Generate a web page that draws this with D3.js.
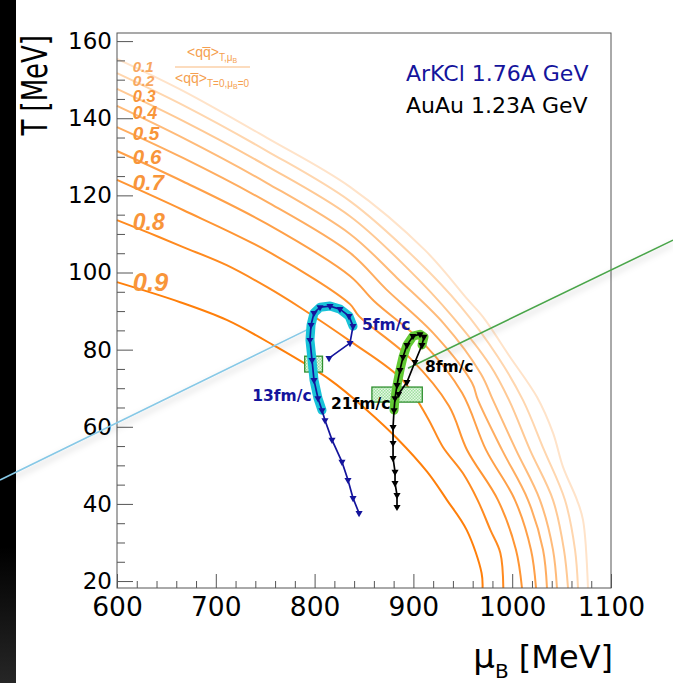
<!DOCTYPE html>
<html>
<head>
<meta charset="utf-8">
<script src="https://cdn.jsdelivr.net/npm/d3@7"></script>
<style>
  body { margin: 0; background: #000; }
  svg { display: block; }
</style>
</head>
<body>
<div id="chart"></div>
<script>
// ---- data ----
const levels = [0.1, 0.2, 0.3, 0.4, 0.5, 0.6, 0.7, 0.8, 0.9];

// chiral condensate ratio contours, [muB, T]
const contour01 = [[600,155.4],[666.8,147.1],[751.8,134.9],[835.8,122.2],[911.7,105.8],[955.3,92.9],[970.4,88.5],[997.8,78.1],[1025.1,67.7],[1041.3,58.4],[1051.4,49.6],[1065.6,41.0],[1071.7,35.8],[1076.7,18.2]];
const contour02 = [[600,151.7],[666.8,143.4],[751.8,131.5],[835.8,118.5],[902.6,103.5],[948.2,91.1],[985.6,78.1],[1010.9,66.9],[1032.2,54.0],[1053.4,41.0],[1063.6,28.1],[1066.6,18.2]];
const contour03 = [[600,147.6],[666.8,139.3],[751.8,127.6],[835.8,114.6],[893.5,101.2],[939.1,88.7],[977.5,76.0],[996.8,66.9],[1018.0,54.0],[1041.3,41.0],[1052.4,28.1],[1056.5,18.2]];
const contour04 = [[600,143.2],[666.8,134.9],[751.8,123.2],[835.8,110.0],[883.4,98.6],[931.0,86.7],[968.4,73.7],[980.6,66.9],[1003.8,54.0],[1028.1,41.0],[1041.3,28.1],[1045.3,18.2]];
const contour05 = [[600,137.7],[666.8,129.7],[751.8,118.3],[835.8,105.1],[872.3,95.7],[920.8,84.1],[959.3,71.4],[965.4,66.9],[989.7,54.0],[1016.0,41.0],[1031.2,28.1],[1035.2,18.2]];
const contour06 = [[600,131.5],[666.8,123.6],[751.8,112.6],[835.8,99.1],[860.1,92.6],[910.7,81.5],[949.2,68.8],[973.5,54.0],[1002.8,41.0],[1019.0,28.1],[1024.1,18.2]];
const contour07 = [[600,124.0],[666.8,116.2],[751.8,105.6],[835.8,91.8],[844.9,88.7],[896.6,77.8],[936.0,65.4],[954.3,54.0],[985.6,41.0],[1003.8,28.1],[1009.9,18.2]];
const contour08 = [[600,113.6],[633,110.2],[667,106.6],[711,101.9],[752,96.2],[785,91.0],[836,82.2],[889,72.1],[914,62.5],[930,54.7],[950,48.0],[965,41.0],[978,33.2],[988,27.3],[991,18.2]];
const contour09 = [[600,97.5],[664,92.3],[711,87.7],[758,81.2],[816,72.1],[853,64.3],[883,57.1],[914,48.3],[934,41.0],[954,33.2],[969,22.1],[970,18.2]];
const contours = [contour01, contour02, contour03, contour04, contour05, contour06, contour07, contour08, contour09];

// ArKCl 1.76A GeV trajectory
const arkclMu = [814.6,835.8,838.9,834.8,825.7,815.6,805.5,799.4,796.4,795.3,797.4,799.4,803.4,807.5,810.5,817.6,827.7,833.8,838.9,845.0];
const arkclT  = [77.8,81.7,86.1,88.7,90.5,91.3,91.0,89.5,86.4,82.5,77.3,72.1,67.4,64.3,61.7,56.6,50.9,46.2,41.5,37.6];
const arkclHighlight = [2, 13];

// AuAu 1.23A GeV trajectory
const auauMu = [885.0,893.5,901.6,908.7,910.7,906.7,899.6,893.5,889.5,886.4,883.4,881.4,880.4,879.4,879.4,879.4,881.4,881.4,883.4,883.4];
const auauT  = [68.5,71.6,76.8,81.2,83.3,84.0,83.5,81.2,78.1,74.7,70.8,67.4,64.3,59.9,55.8,51.9,48.3,45.4,42.3,39.2];
const auauHighlight = [3, 12];

// freeze-out boxes
const arkclBoxMu = [790, 808], arkclBoxT = [74.2, 78.3];
const auauBoxMu = [858, 909], auauBoxT = [66.4, 70.3];

// straight lines
const arkclLineMu = [481.6, 798.4], arkclLineT = [46.2, 85.9];
const auauLineMu = [894.5, 1162.8], auauLineT = [75.2, 108.4];

// time labels
const timeLabels = [
  { text: "5fm/c", mu: 848, T: 86.5, set: "arkcl", anchor: "start" },
  { text: "13fm/c", mu: 797, T: 67.9, set: "arkcl", anchor: "end" },
  { text: "21fm/c", mu: 816.6, T: 65.8, set: "auau", anchor: "start" },
  { text: "8fm/c", mu: 911.7, T: 75.6, set: "auau", anchor: "start" }
];

const xTicks = [600, 700, 800, 900, 1000, 1100];
const yTicks = [20, 40, 60, 80, 100, 120, 140, 160];

// ---- layout ----
const W = 673, H = 683;
const x = d3.scaleLinear().domain([600, 1100]).range([117, 611]);
const y = d3.scaleLinear().domain([18.2, 162.1]).range([588, 33]);

const contourColors = ["#ffe3c9", "#ffd6ae", "#ffc994", "#ffbb7a", "#ffad60", "#ffa048", "#ff9533", "#ff8a1f", "#ff7f0a"];
const labelSizes = [15, 15.5, 16.5, 17.5, 19, 20.5, 22.5, 23, 25.5];
const labelDy = [8, 7, 7, 7, 6, 5, 3, 2, 0];
const navy = "#14149c";

const svg = d3.select("#chart").append("svg")
    .attr("width", W)
    .attr("height", H);

const defs = svg.append("defs");
const shadow = defs.append("filter").attr("id", "shadow")
    .attr("x", "-10%").attr("y", "-50%").attr("width", "120%").attr("height", "300%");
shadow.append("feDropShadow").attr("dx", 0).attr("dy", 4)
    .attr("stdDeviation", 3).attr("flood-color", "#000").attr("flood-opacity", 0.25);

const hatch = defs.append("pattern").attr("id", "hatch")
    .attr("patternUnits", "userSpaceOnUse").attr("width", 3).attr("height", 3);
hatch.append("rect").attr("width", 3).attr("height", 3).attr("fill", "#e6f8e6");
hatch.append("rect").attr("width", 1.5).attr("height", 1.5).attr("fill", "#9fe09f");
hatch.append("rect").attr("x", 1.5).attr("y", 1.5).attr("width", 1.5).attr("height", 1.5).attr("fill", "#9fe09f");

const strip = defs.append("linearGradient").attr("id", "strip")
    .attr("x1", 0).attr("y1", 0).attr("x2", 0).attr("y2", 1);
strip.append("stop").attr("offset", "0.8").attr("stop-color", "#000");
strip.append("stop").attr("offset", "1").attr("stop-color", "#262626");

// background: white panel with black strip on the left
svg.append("rect").attr("width", W).attr("height", H).attr("fill", "#fff");
svg.append("rect").attr("width", 16).attr("height", H).attr("fill", "url(#strip)");

// contours
const line = d3.line()
    .x(d => x(d[0]))
    .y(d => y(d[1]))
    .curve(d3.curveCatmullRom.alpha(0.5));

svg.append("g").selectAll("path")
  .data(contours)
  .enter().append("path")
    .attr("d", line)
    .attr("fill", "none")
    .attr("stroke", (d, i) => contourColors[i])
    .attr("stroke-width", 2);

// contour labels
svg.append("g").selectAll("text")
  .data(levels)
  .enter().append("text")
    .attr("x", x(616))
    .attr("y", (d, i) => y(contours[i][0][1]) + labelDy[i])
    .attr("dominant-baseline", "central")
    .style("font-family", "'Liberation Sans', Arial, sans-serif")
    .style("font-weight", "bold")
    .style("font-style", "italic")
    .style("font-size", (d, i) => labelSizes[i] + "px")
    .attr("fill", (d, i) => i < 2 ? "#f8a860" : "#f8953a")
    .text(d => d.toFixed(1));

// ratio legend
const frac = svg.append("g")
    .style("font-family", "'Liberation Sans', Arial, sans-serif")
    .attr("fill", "#f59f50");
const num = frac.append("text").attr("x", 187).attr("y", 57).style("font-size", "14px");
num.append("tspan").text("<qq\u0305>");
num.append("tspan").attr("dy", 4).style("font-size", "10px").text("T,\u03bc");
num.append("tspan").attr("dy", 2).style("font-size", "7px").text("B");
frac.append("line").attr("x1", 175).attr("x2", 250).attr("y1", 67).attr("y2", 67)
    .attr("stroke", "#fbd0a8").attr("stroke-width", 1.5);
const den = frac.append("text").attr("x", 175).attr("y", 83).style("font-size", "14px");
den.append("tspan").text("<qq\u0305>");
den.append("tspan").attr("dy", 4).style("font-size", "10px").text("T=0,\u03bc");
den.append("tspan").attr("dy", 2).style("font-size", "7px").text("B");
den.append("tspan").attr("dy", -2).style("font-size", "10px").text("=0");

// frame
svg.append("rect")
    .attr("x", x(600)).attr("y", y(162.1))
    .attr("width", x(1100) - x(600)).attr("height", y(18.2) - y(162.1))
    .attr("fill", "none").attr("stroke", "#555").attr("stroke-width", 1);

// axes (ticks inside, ROOT style)
const xMinor = d3.range(600, 1101, 20).filter(v => v % 100 !== 0);
const yMinor = d3.range(20, 161, 5).filter(v => v % 20 !== 0);

const gx = svg.append("g").attr("transform", `translate(0,${y(18.2)})`);
gx.call(d3.axisBottom(x).tickValues(xTicks).tickSize(-14).tickPadding(9).tickFormat(d3.format("d")));
gx.append("g").call(d3.axisBottom(x).tickValues(xMinor).tickSize(-7).tickFormat(""));
gx.selectAll(".domain").remove();
gx.selectAll(".tick line").attr("stroke", "#555");
gx.selectAll(".tick text")
    .style("font-family", "'DejaVu Sans', sans-serif")
    .style("font-size", "26.5px")
    .attr("fill", "#000");

const gy = svg.append("g").attr("transform", `translate(${x(600)},0)`);
gy.call(d3.axisLeft(y).tickValues(yTicks).tickSize(-16).tickPadding(5).tickFormat(d3.format("d")));
gy.append("g").call(d3.axisLeft(y).tickValues(yMinor).tickSize(-8).tickFormat(""));
gy.selectAll(".domain").remove();
gy.selectAll(".tick line").attr("stroke", "#555");
gy.selectAll(".tick text")
    .style("font-family", "'DejaVu Sans', sans-serif")
    .style("font-size", "23px")
    .attr("fill", "#000");

// axis titles
const xt = svg.append("text")
    .attr("x", 613).attr("y", 668)
    .attr("text-anchor", "end")
    .style("font-family", "'DejaVu Sans', sans-serif")
    .style("font-size", "32px")
    .attr("fill", "#000");
xt.append("tspan").style("font-size", "34px").text("\u03bc");
xt.append("tspan").attr("dy", 10).style("font-size", "20px").text("B");
xt.append("tspan").attr("dy", -10).text(" [MeV]");

svg.append("text")
    .attr("transform", "translate(47,35) scale(1.35,1) rotate(-90)")
    .attr("text-anchor", "end")
    .style("font-family", "'DejaVu Sans', sans-serif")
    .style("font-size", "26px")
    .attr("fill", "#000")
    .text("T [MeV]");

// freeze-out lines (running past the frame)
function straight(mu, T, color) {
  svg.append("line")
      .attr("x1", x(mu[0])).attr("y1", y(T[0]))
      .attr("x2", x(mu[1])).attr("y2", y(T[1]))
      .attr("stroke", color).attr("stroke-width", 1.6)
      .attr("filter", "url(#shadow)");
}
straight(arkclLineMu, arkclLineT, "#86c8e6");
straight(auauLineMu, auauLineT, "#4aa54a");

// boxes
function box(mu, T) {
  svg.append("rect")
      .attr("x", x(mu[0])).attr("y", y(T[1]))
      .attr("width", x(mu[1]) - x(mu[0])).attr("height", y(T[0]) - y(T[1]))
      .attr("fill", "url(#hatch)")
      .attr("stroke", "#2f8f2f").attr("stroke-width", 1.3);
}
box(arkclBoxMu, arkclBoxT);
box(auauBoxMu, auauBoxT);

// trajectories
const tline = d3.line().x(d => x(d[0])).y(d => y(d[1]));
const tri = d3.symbol(d3.symbolTriangle).size(22);

function trajectory(mu, T, hl, hlColor, color) {
  const pts = mu.map((m, i) => [m, T[i]]);
  svg.append("path")
      .attr("d", tline(pts.slice(hl[0], hl[1] + 1)))
      .attr("fill", "none")
      .attr("stroke", hlColor)
      .attr("stroke-width", 9)
      .attr("stroke-linecap", "round")
      .attr("stroke-linejoin", "round");
  svg.append("path")
      .attr("d", tline(pts))
      .attr("fill", "none")
      .attr("stroke", color)
      .attr("stroke-width", 1.7);
  svg.append("g").selectAll("path")
    .data(pts)
    .enter().append("path")
      .attr("d", tri)
      .attr("transform", d => `translate(${x(d[0])},${y(d[1])}) rotate(180)`)
      .attr("fill", color);
}
trajectory(arkclMu, arkclT, arkclHighlight, "#19c3d8", navy);
trajectory(auauMu, auauT, auauHighlight, "#62c933", "#000");

// time labels
svg.append("g").selectAll("text")
  .data(timeLabels)
  .enter().append("text")
    .attr("x", d => x(d.mu))
    .attr("y", d => y(d.T))
    .attr("text-anchor", d => d.anchor)
    .attr("dominant-baseline", "central")
    .style("font-family", "'DejaVu Sans', sans-serif")
    .style("font-weight", "bold")
    .style("font-size", "15.5px")
    .attr("fill", d => d.set === "arkcl" ? navy : "#000")
    .text(d => d.text);

// legend
svg.append("text")
    .attr("x", 406).attr("y", 81)
    .style("font-family", "'DejaVu Sans', sans-serif")
    .style("font-size", "22px")
    .attr("fill", navy)
    .text("ArKCl 1.76A GeV");
svg.append("text")
    .attr("x", 406).attr("y", 113)
    .style("font-family", "'DejaVu Sans', sans-serif")
    .style("font-size", "22px")
    .attr("fill", "#000")
    .text("AuAu 1.23A GeV");
</script>
</body>
</html>
